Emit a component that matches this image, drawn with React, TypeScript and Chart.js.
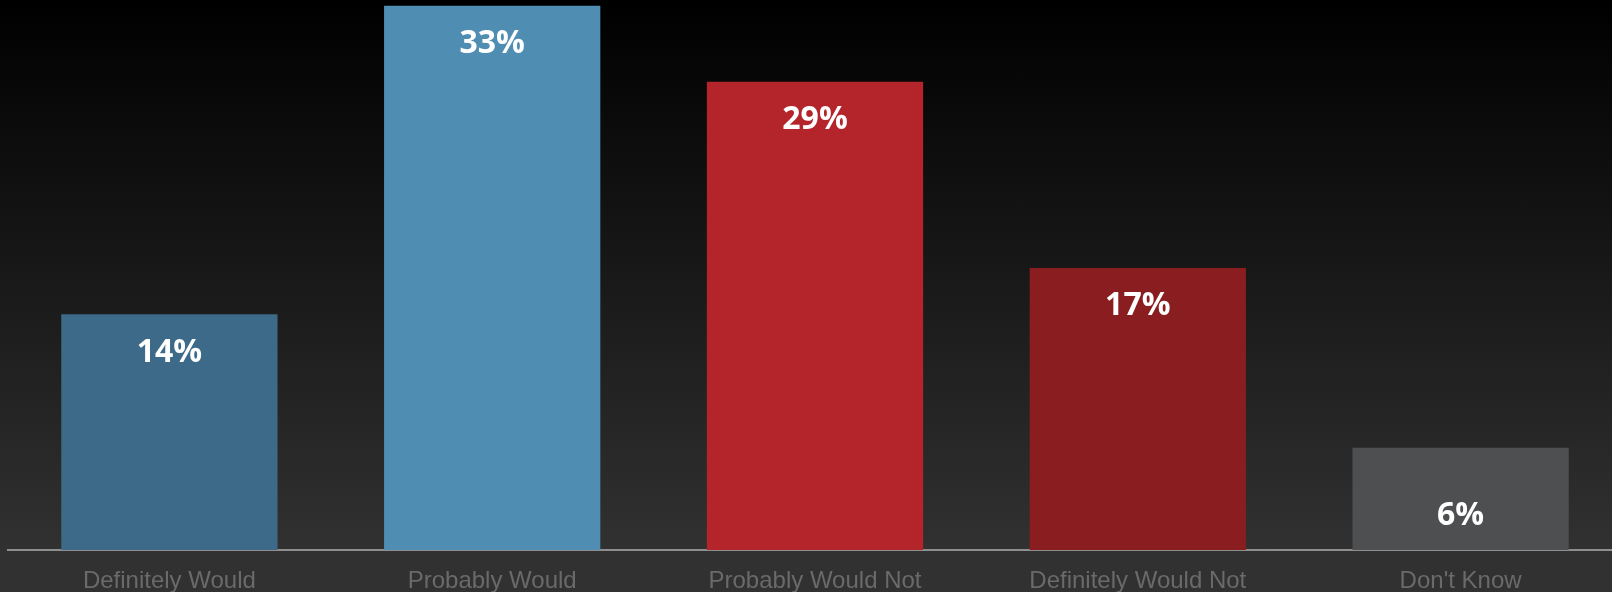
import React, { useEffect, useRef } from "react";
import { Chart, registerables } from "chart.js";

Chart.register(...registerables);

const categories = ["Definitely Would", "Probably Would", "Probably Would Not", "Definitely Would Not", "Don't Know"];
const values = [14.3, 33.0, 28.4, 17.1, 6.2];
const valueLabels = ["14%", "33%", "29%", "17%", "6%"];
const barColors = ["#3d6a88", "#4f8db3", "#b3252b", "#8a1d1f", "#4d4f51"];

const labelPlugin = {
  id: "barValueLabels",
  afterDatasetsDraw(chart: any) {
    const ctx = chart.ctx;
    const meta = chart.getDatasetMeta(0);
    ctx.save();
    ctx.fillStyle = "#ffffff";
    ctx.font = "bold 32px 'Open Sans'";
    ctx.textAlign = "center";
    ctx.textBaseline = "alphabetic";
    meta.data.forEach((bar: any, i: number) => {
      const h = bar.base - bar.y;
      const y = h < 120 ? bar.base - 37 + 11.5 : bar.y + 36 + 11.5;
      ctx.fillText(valueLabels[i], bar.x, y);
    });
    ctx.restore();
  },
};

export default function App() {
  const ref = useRef<HTMLCanvasElement | null>(null);
  useEffect(() => {
    document.body.style.margin = "0";
    const chart = new Chart(ref.current!, {
      type: "bar",
      data: {
        labels: categories,
        datasets: [
          {
            data: values,
            backgroundColor: barColors,
            borderWidth: 0,
            barPercentage: 0.67,
            categoryPercentage: 1,
          },
        ],
      },
      options: {
        animation: false,
        responsive: false,
        maintainAspectRatio: false,
        layout: { padding: { left: 8, right: 0, top: 0, bottom: 0 } },
        plugins: { legend: { display: false }, tooltip: { enabled: false } },
        scales: {
          x: {
            grid: { display: false, drawTicks: false },
            border: { display: true, color: "#8f8f8f", width: 2 },
            ticks: {
              color: "#6a6a6a",
              font: { family: "'Liberation Sans', Arial", size: 24, lineHeight: 1 },
              padding: 19,
              maxRotation: 0,
              autoSkip: false,
            },
            afterFit: (scale: any) => {
              scale.height = 42;
            },
          },
          y: { display: false, min: 0, max: 33.35 },
        },
      },
      plugins: [labelPlugin],
    });
    return () => chart.destroy();
  }, []);
  return (
    <div
      style={{
        position: "fixed",
        left: 0,
        top: 0,
        width: 1612,
        height: 592,
        overflow: "hidden",
        background: "linear-gradient(to bottom, #000000 0%, #313131 93%, #313131 100%)",
      }}
    >
      <canvas ref={ref} width={1622} height={592} style={{ display: "block", width: 1622, height: 592 }} />
    </div>
  );
}
